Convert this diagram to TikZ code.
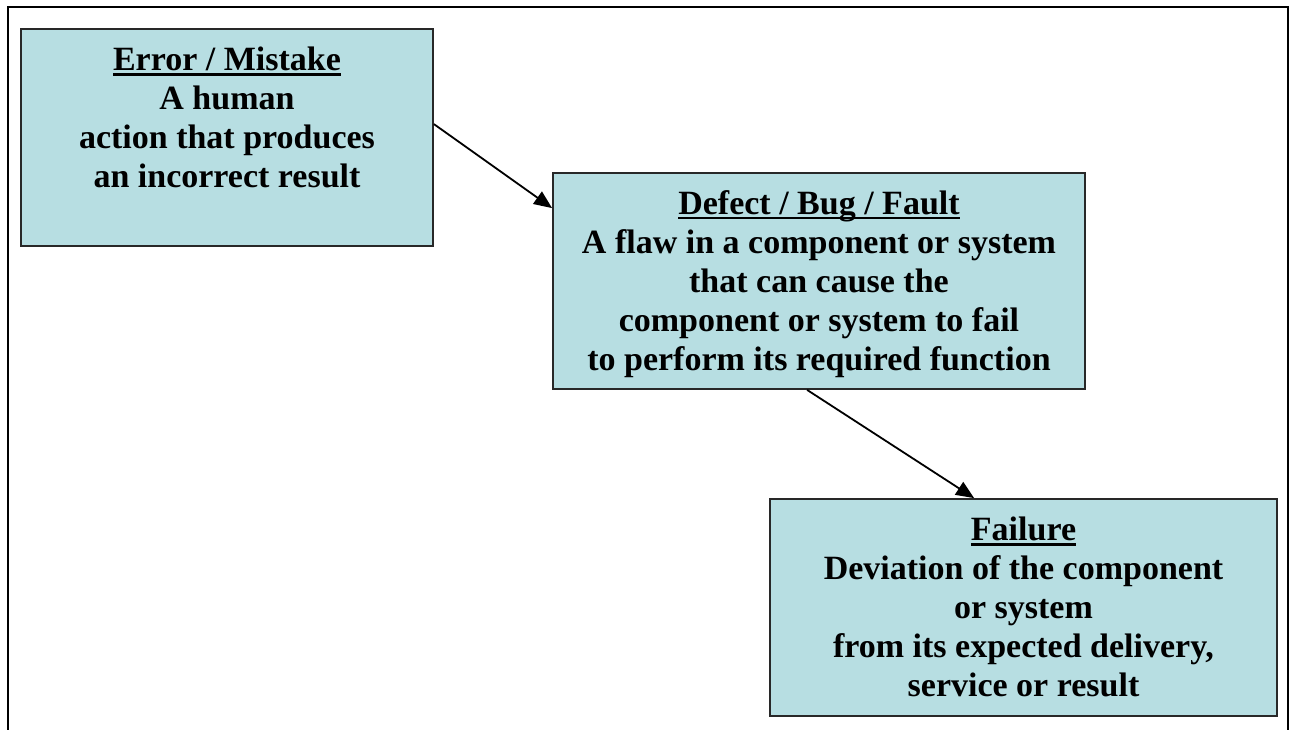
\documentclass[tikz,border=0pt]{standalone}
\usepackage{fontspec}
\setmainfont{Liberation Serif}
\usetikzlibrary{arrows.meta,calc}
\definecolor{boxfill}{RGB}{183,222,226}
\definecolor{boxline}{RGB}{40,40,40}
% heading with a thick rule under it
\newcommand{\headrule}[1]{\setbox0=\hbox{#1}\rlap{\rule[-5pt]{\wd0}{2.6pt}}\box0}
\tikzset{
  box/.style={draw=boxline, line width=1.8pt, fill=boxfill, inner sep=0pt},
  boxtext/.style={anchor=north, align=center, inner sep=0pt,
    font=\fontsize{34}{39}\selectfont\bfseries},
  link/.style={line width=1.8pt, -{Triangle[length=18pt,width=15pt]}},
  frame/.style={line width=2.6pt}
}
\begin{document}
\begin{tikzpicture}[x=1pt,y=-1pt]
\useasboundingbox (0,0) rectangle (1291,730);
% outer frame, open at the bottom
\coordinate (fbl) at (8,731);
\coordinate (ftl) at (8,7);
\coordinate (ftr) at (1288,7);
\coordinate (fbr) at (1288,731);
\draw[frame] (fbl) -- (ftl) -- (ftr) -- (fbr);

% boxes
\node[box, minimum width=412, minimum height=217] (err) at (227,137.5) {};
\node[box, minimum width=532, minimum height=216] (defect) at (819,281) {};
\node[box, minimum width=507, minimum height=217] (fail) at (1023.5,607.5) {};

% box texts
\node[boxtext] (errtxt) at (227,47) {\headrule{Error / Mistake}\\A human\\action that produces\\an incorrect result};
\node[boxtext] (defecttxt) at (819,190) {\headrule{Defect / Bug / Fault}\\A flaw in a component or system\\that can cause the\\component or system to fail\\to perform its required function};
\node[boxtext] (failtxt) at (1023.5,517) {\headrule{Failure}\\Deviation of the component\\or system\\from its expected delivery,\\service or result};

% connectors
\draw[link] ($(err.north east)+(0,96)$) -- ($(defect.north west)+(0,36)$);
\draw[link] ($(defect.south west)+(255,0)$) -- ($(fail.north west)+(205,0)$);
\end{tikzpicture}
\end{document}
